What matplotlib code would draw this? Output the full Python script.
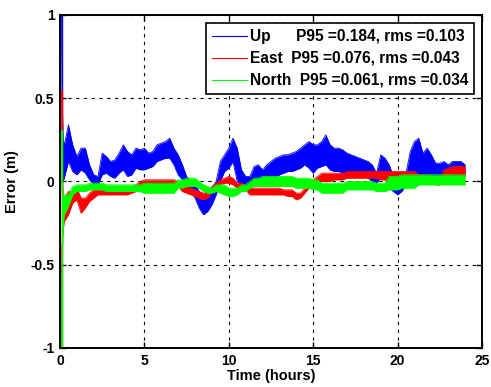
import numpy as np
import matplotlib
matplotlib.use('Agg')
import matplotlib.pyplot as plt
from matplotlib.lines import Line2D

# time axis (hours): a few samples for the start-up spike, then every 15 min
hours = np.concatenate([[0.09, 0.11, 0.18], np.arange(0.25, 24.01, 0.25)])

# upper / lower edge of each noisy error band (m)
up_hi = [1.0, 0.6, 0.25,
         0.22, 0.34, 0.22, 0.15, 0.20, 0.20, 0.10, 0.04, 0.03, 0.17, 0.15, 0.12,
         0.13, 0.17, 0.22, 0.18, 0.16, 0.20, 0.19, 0.20, 0.17, 0.18, 0.22, 0.23,
         0.24, 0.26, 0.20, 0.16, 0.10, 0.03, 0.00, -0.02, -0.06, -0.08, -0.08, -0.04,
         0.00, 0.12, 0.16, 0.20, 0.26, 0.20, 0.07, 0.03, 0.03, 0.09, 0.10, 0.07,
         0.10, 0.12, 0.14, 0.15, 0.16, 0.16, 0.17, 0.18, 0.20, 0.22, 0.24, 0.22,
         0.22, 0.24, 0.28, 0.22, 0.20, 0.20, 0.19, 0.17, 0.16, 0.15, 0.14, 0.13,
         0.12, 0.10, 0.05, 0.16, 0.14, 0.10, 0.03, 0.00, 0.03, 0.05, 0.18, 0.24,
         0.26, 0.17, 0.20, 0.16, 0.11, 0.11, 0.12, 0.10, 0.12, 0.12, 0.12, 0.10]
up_lo = [0.0, 0.0, 0.0,
         0.02, 0.12, 0.06, 0.04, 0.07, 0.05, 0.01, -0.02, -0.02, 0.04, 0.05, 0.03,
         0.02, 0.05, 0.07, 0.03, 0.04, 0.08, 0.07, 0.07, 0.08, 0.09, 0.12, 0.13,
         0.14, 0.14, 0.10, 0.04, 0.01, -0.02, -0.06, -0.10, -0.16, -0.20, -0.18, -0.14,
         -0.08, 0.00, 0.06, 0.08, 0.12, 0.00, -0.02, -0.04, -0.04, -0.02, -0.01, 0.00,
         0.00, 0.02, 0.02, 0.04, 0.05, 0.06, 0.06, 0.07, 0.08, 0.10, 0.08, 0.05,
         0.08, 0.09, 0.10, 0.07, 0.06, 0.06, 0.05, 0.04, 0.04, 0.04, 0.04, 0.03,
         0.02, 0.00, -0.01, 0.02, 0.02, -0.04, -0.06, -0.08, -0.06, -0.02, 0.02, 0.04,
         0.04, 0.04, 0.04, 0.03, 0.00, 0.01, 0.02, 0.02, 0.02, 0.02, 0.03, 0.03]

east_hi = [0.55, 0.2, -0.10,
           -0.10, -0.06, -0.06, -0.04, -0.10, -0.10, -0.07, -0.05, -0.04, -0.04, -0.04, -0.04,
           -0.05, -0.05, -0.05, -0.04, -0.03, -0.02, 0.00, 0.01, 0.01, 0.01, 0.01, 0.01,
           0.01, 0.01, 0.01, 0.00, -0.03, -0.03, -0.04, -0.05, -0.06, -0.07, -0.06, -0.03,
           -0.01, 0.01, 0.02, 0.03, 0.02, -0.01, -0.01, -0.02, -0.04, -0.04, -0.04, -0.04,
           -0.04, -0.04, -0.04, -0.04, -0.05, -0.05, -0.05, -0.07, -0.07, -0.04, -0.01, 0.01,
           0.03, 0.05, 0.05, 0.05, 0.05, 0.05, 0.05, 0.06, 0.06, 0.06, 0.06, 0.06,
           0.06, 0.06, 0.06, 0.06, 0.06, 0.06, 0.06, 0.06, 0.06, 0.06, 0.06, 0.06,
           0.04, 0.04, 0.04, 0.04, 0.02, 0.02, 0.07, 0.08, 0.09, 0.09, 0.09, 0.09]
east_lo = [-1.0, -0.4, -0.30,
           -0.24, -0.20, -0.13, -0.11, -0.19, -0.16, -0.12, -0.10, -0.08, -0.08, -0.08, -0.08,
           -0.08, -0.08, -0.08, -0.08, -0.07, -0.06, -0.05, -0.03, -0.03, -0.02, -0.02, -0.02,
           -0.02, -0.02, -0.02, -0.03, -0.06, -0.07, -0.08, -0.09, -0.10, -0.11, -0.10, -0.06,
           -0.03, -0.02, -0.01, -0.01, -0.02, -0.04, -0.04, -0.05, -0.08, -0.08, -0.08, -0.08,
           -0.08, -0.08, -0.08, -0.08, -0.08, -0.09, -0.09, -0.11, -0.10, -0.07, -0.04, -0.03,
           -0.02, 0.00, 0.00, 0.00, 0.01, 0.01, 0.01, 0.02, 0.02, 0.02, 0.02, 0.02,
           0.02, 0.02, 0.02, 0.01, 0.01, 0.01, 0.01, 0.01, 0.02, 0.02, 0.02, 0.02,
           0.00, 0.00, 0.00, 0.00, -0.02, -0.02, 0.02, 0.03, 0.03, 0.03, 0.03, 0.03]

north_hi = [0.31, -0.05, -0.10,
            -0.08, -0.08, -0.03, -0.02, -0.02, -0.02, -0.01, -0.01, -0.01, -0.01, -0.02, -0.02,
            -0.02, -0.02, -0.02, -0.02, -0.02, -0.02, -0.02, -0.01, -0.01, -0.01, -0.01, -0.01,
            -0.01, -0.01, -0.01, 0.01, 0.01, 0.02, 0.02, 0.02, 0.00, -0.02, -0.03, -0.04,
            -0.02, -0.02, -0.02, -0.04, -0.04, -0.04, -0.02, -0.02, 0.00, 0.02, 0.02, 0.03,
            0.03, 0.03, 0.03, 0.03, 0.03, 0.03, 0.03, 0.02, 0.02, 0.02, 0.02, 0.01,
            0.01, -0.01, -0.01, -0.01, -0.01, -0.01, -0.01, 0.00, 0.00, 0.00, 0.00, 0.00,
            0.00, 0.00, -0.01, -0.01, -0.01, 0.03, 0.03, 0.03, 0.04, 0.04, 0.04, 0.04,
            0.04, 0.04, 0.04, 0.04, 0.04, 0.04, 0.04, 0.04, 0.04, 0.04, 0.04, 0.04]
north_lo = [-1.0, -0.6, -0.28,
            -0.20, -0.15, -0.08, -0.06, -0.06, -0.06, -0.05, -0.05, -0.05, -0.05, -0.06, -0.06,
            -0.06, -0.06, -0.06, -0.06, -0.06, -0.06, -0.06, -0.07, -0.07, -0.07, -0.07, -0.07,
            -0.07, -0.07, -0.07, -0.04, -0.04, -0.03, -0.03, -0.03, -0.04, -0.06, -0.07, -0.07,
            -0.06, -0.07, -0.08, -0.09, -0.09, -0.08, -0.06, -0.06, -0.04, -0.03, -0.03, -0.03,
            -0.03, -0.03, -0.03, -0.03, -0.03, -0.03, -0.03, -0.04, -0.04, -0.04, -0.04, -0.05,
            -0.05, -0.07, -0.07, -0.07, -0.07, -0.07, -0.07, -0.05, -0.05, -0.05, -0.05, -0.05,
            -0.05, -0.05, -0.06, -0.06, -0.06, -0.05, -0.05, -0.05, -0.04, -0.04, -0.04, -0.04,
            -0.02, -0.02, -0.02, -0.02, -0.02, -0.02, -0.02, -0.02, -0.02, -0.02, -0.02, -0.02]

labels = ['Up      P95 =0.184, rms =0.103',
          'East  P95 =0.076, rms =0.043',
          'North  P95 =0.061, rms =0.034']
colors = ['#0000ff', '#ff0000', '#00ff00']

plt.rcParams['font.family'] = ['Liberation Sans', 'DejaVu Sans']
plt.rcParams['font.weight'] = 'bold'

fig = plt.figure(figsize=(4.91, 3.87), dpi=100)
ax = fig.add_axes([0.1222, 0.1008, 0.8595, 0.8605])
ax.set_axisbelow(True)

bands = [(up_hi, up_lo), (east_hi, east_lo), (north_hi, north_lo)]
for (hi, lo), c in zip(bands, colors):
    ax.fill_between(hours, lo, hi, color=c, lw=0, zorder=2)
    ax.plot(hours, hi, color=c, lw=0.6, zorder=2)
    ax.plot(hours, lo, color=c, lw=0.6, zorder=2)
    # the first epoch jumps across the whole range
    ax.vlines(hours[0], lo[0], hi[0], color=c, lw=1.0, zorder=2)

ax.set_xlim(0, 25)
ax.set_ylim(-1, 1)
ax.set_xticks([0, 5, 10, 15, 20, 25])
ax.set_yticks([-1, -0.5, 0, 0.5, 1])
ax.set_yticklabels(['-1', '-0.5', '0', '0.5', '1'])
ax.grid(True, color='black', linestyle=(0, (3, 4)), linewidth=0.8)
ax.tick_params(direction='in', length=4, width=1, top=True, right=True,
               labelsize=10, pad=4)
for s in ax.spines.values():
    s.set_linewidth(1.4)
    s.set_zorder(3)

ax.set_xlabel('Time (hours)', fontsize=10.5, fontweight='bold', labelpad=1)
ax.set_ylabel('Error (m)', fontsize=10.5, fontweight='bold', labelpad=8)

handles = [Line2D([], [], color=c, lw=0.8) for c in colors]
leg = ax.legend(handles, labels, loc='upper right', fontsize=11.2,
                frameon=True, fancybox=False, edgecolor='black',
                borderaxespad=0.5, handlelength=2.2, handletextpad=0.2,
                labelspacing=0.45, borderpad=0.4)
leg.get_frame().set_linewidth(1.2)
leg.get_frame().set_alpha(1)
leg.set_zorder(5)

fig.savefig('out.png', dpi=100)
